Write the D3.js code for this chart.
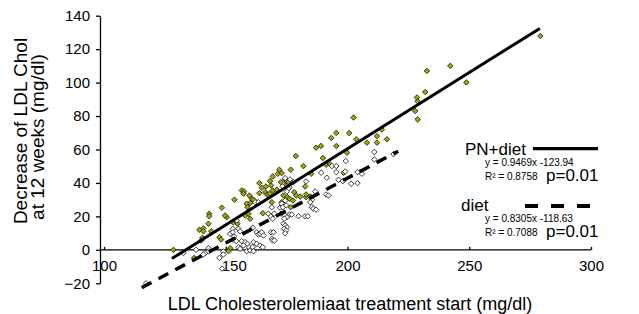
<!DOCTYPE html>
<html>
<head>
<meta charset="utf-8">
<script src="https://cdn.jsdelivr.net/npm/d3@7"></script>
<style>
  body { margin: 0; background: #fff; }
  svg { display: block; font-family: 'Liberation Sans', Arial, Helvetica, sans-serif; }
</style>
</head>
<body>
<script>
const W = 639
const H = 314

const xTicks = [100, 150, 200, 250, 300]
const yTicks = [-20, 0, 20, 40, 60, 80, 100, 120, 140]

// [LDL at start, decrease at 12 weeks]
const pnDiet = [
  [128.5, 0], [137.0, -4.8], [143.2, 21.6], [143.2, 20.1], [142.9, 15.6], [139.2, 12.0], [140.8, 12.9],
  [140.8, 11.1], [144.0, 11.1], [140.4, 7.2], [139.9, 5.6], [148.4, 25.2], [153.6, 30.0], [156.6, 35.5],
  [157.5, 34.9], [157.3, 33.5], [163.8, 39.9], [163.8, 33.9], [160.0, 27.9], [150.4, 19.5], [147.4, 7.5],
  [148.1, 6.2], [172.0, 47.9], [171.4, 45.5], [173.0, 45.9], [169.3, 43.9], [174.4, 41.9], [175.1, 41.1],
  [175.7, 40.5], [168.2, 41.1], [172.6, 40.5], [174.4, 38.5], [166.5, 37.9], [168.6, 38.5], [164.8, 37.1],
  [169.3, 35.5], [171.0, 35.9], [166.2, 34.5], [166.9, 33.1], [168.0, 33.5], [159.7, 32.5], [160.7, 30.5],
  [161.4, 30.0], [168.9, 28.5], [173.0, 28.5], [158.6, 27.6], [158.9, 25.5], [175.3, 31.5], [195.4, 69.9],
  [200.7, 69.9], [203.6, 66.1], [193.3, 66.9], [187.1, 61.1], [189.1, 62.1], [195.4, 62.1], [199.8, 58.1],
  [178.8, 56.1], [189.9, 54.9], [181.9, 50.1], [191.2, 50.9], [192.9, 51.1], [176.7, 47.9], [185.1, 45.5],
  [198.4, 46.1], [182.6, 37.9], [178.1, 34.5], [178.9, 32.5], [183.0, 31.5], [184.7, 31.9], [231.9, 94.4],
  [228.5, 91.1], [228.8, 88.8], [227.8, 83.0], [228.8, 78.0], [202.5, 79.1], [214.1, 71.9], [212.1, 68.0],
  [212.1, 64.1], [216.2, 66.1], [208.0, 64.1], [242.2, 110.0], [232.6, 107.0], [248.8, 100.1], [279.2, 127.8],
  [173.7, 32.5], [176.2, 30.5], [177.6, 29.5], [180.6, 31.9], [183.0, 33.1], [185.1, 31.2], [176.7, 25.5],
  [149.7, 20.5], [158.0, 20.5], [159.3, 21.6], [160.0, 18.6], [165.2, 21.9], [153.1, 16.5], [154.3, 17.1],
  [154.8, 15.6], [151.8, 1.0], [151.1, -0.8]
]

const diet = [
  [137.8, 0], [142.9, 1.0], [142.9, -1.0], [141.5, -2.0], [140.8, -2.8], [132.6, -1.8], [147.4, -4.8],
  [117.3, -20.0], [148.5, -11.2], [154.5, 17.6], [162.1, 28.5], [163.4, 28.5], [168.9, 25.5], [172.3, 25.2],
  [174.8, 26.6], [176.2, 37.5], [193.6, 50.1], [195.4, 50.1], [199.3, 53.1], [189.2, 46.1], [195.4, 46.5],
  [204.1, 46.5], [191.5, 43.1], [196.3, 41.9], [198.1, 41.1], [201.5, 39.5], [204.1, 39.9], [183.0, 40.9],
  [176.4, 42.1], [177.8, 40.5], [173.4, 37.9], [175.7, 36.5], [175.1, 34.9], [186.7, 34.9], [191.2, 33.1],
  [211.0, 58.5], [211.0, 54.1], [205.9, 45.5], [218.9, 57.2], [199.1, 46.9], [174.4, 42.9], [167.5, 21.6],
  [168.5, 20.0], [169.3, 18.6], [169.9, 21.6], [172.7, 21.6], [152.9, 12.6], [155.2, 12.6], [155.9, 11.1],
  [161.1, 13.2], [162.7, 10.5], [163.4, 9.2], [164.1, 9.6], [164.8, 10.5], [165.5, 8.6], [168.6, 10.5],
  [169.6, 10.5], [168.9, 6.6], [169.2, 5.6], [170.0, 5.6], [151.8, 9.6], [152.9, 10.5], [153.4, 8.0],
  [152.9, 6.0], [154.3, 5.2], [156.6, 5.2], [158.0, 4.6], [158.9, 3.6], [157.3, 2.6], [161.4, 4.6],
  [162.7, 3.6], [164.1, 2.6], [165.2, 1.6], [159.6, 1.6], [161.1, 1.6], [155.2, 1.6], [155.9, 0.6],
  [158.6, -0.8], [160.0, -0.4], [161.4, -0.8], [149.0, -1.0], [149.0, -2.8], [192.2, 32.5], [185.4, 30.0],
  [184.7, 28.5], [174.4, 29.5], [173.0, 27.6], [173.4, 25.5], [185.4, 25.5], [186.0, 24.6], [187.1, 24.0],
  [176.2, 21.1], [177.1, 21.1], [174.4, 20.5], [175.1, 19.5], [174.0, 18.6], [179.9, 20.1], [182.6, 20.1],
  [183.7, 20.1], [173.7, 15.6], [174.4, 14.6], [175.1, 13.5], [174.0, 12.6], [174.8, 11.6], [174.4, 9.9]
]

// fitted lines, ends
const pnDietFit = [[127.9, -5.2], [279, 132.4]]
const dietFit = [[115.5, -22.6], [220.8, 59.0]]

const legendNames = ['PN+diet', 'diet']
const equations = ['y = 0.9469x -123.94', 'y = 0.8305x -118.63']
const rSquared = ['R² = 0.8758', 'R² = 0.7088']
const pValues = ['p=0.01', 'p=0.01']

const yellow = '#a6a800'

const svg = d3.select('body').append('svg')
  .attr('width', W)
  .attr('height', H)

const x = d3.scaleLinear().domain([100, 300]).range([104, 591])
const y = d3.scaleLinear().domain([-20, 140]).range([283.3, 15.7])
const yAxisX = 100

// x axis runs along y = 0
svg.append('g')
  .attr('transform', `translate(0,${y(0)})`)
  .call(d3.axisBottom(x).tickValues(xTicks).tickSizeInner(-3).tickSizeOuter(0).tickPadding(11))
  .call(g => g.select('.domain').attr('d', `M${yAxisX},0H${x.range()[1]}`))
  .call(g => g.selectAll('.domain, .tick line').attr('stroke', '#000').attr('stroke-width', 1.3))
  .call(g => g.selectAll('.tick text').attr('font-size', 15).attr('font-family', null).attr('fill', '#000'))
  // the 150 label sits a little right of its tick in the original
  .call(g => g.selectAll('.tick text').filter(d => d === 150).attr('dx', 8))

svg.append('g')
  .attr('transform', `translate(${yAxisX},0)`)
  .call(d3.axisLeft(y).tickValues(yTicks).tickSizeInner(4).tickSizeOuter(0).tickPadding(6))
  .call(g => g.selectAll('.domain, .tick line').attr('stroke', '#000').attr('stroke-width', 1.3))
  .call(g => g.selectAll('.tick text').attr('font-size', 15).attr('font-family', null).attr('fill', '#000'))

// axis titles
svg.append('text')
  .attr('x', 350)
  .attr('y', 310)
  .attr('text-anchor', 'middle')
  .attr('font-size', 18)
  .text('LDL Cholesterolemiaat treatment start (mg/dl)')

const yTitle = svg.append('g')
  .attr('font-size', 19)
  .attr('text-anchor', 'middle')
yTitle.append('text')
  .attr('transform', 'translate(27,131) rotate(-90)')
  .text('Decrease of LDL Chol')
yTitle.append('text')
  .attr('transform', 'translate(44,137) rotate(-90)')
  .text('at 12 weeks (mg/dl)')

// points
const marker = d3.symbol().type(d3.symbolSquare).size(15)

const drawPoints = (data, fill) => svg.append('g')
  .selectAll('path')
  .data(data)
  .join('path')
  .attr('d', marker)
  .attr('transform', d => `translate(${x(d[0])},${y(d[1])}) rotate(45)`)
  .attr('fill', fill)
  .attr('stroke', '#1a1a1a')
  .attr('stroke-width', 0.8)

drawPoints(pnDiet, yellow)
drawPoints(diet, '#fff')

// regression lines
const line = d3.line().x(d => x(d[0])).y(d => y(d[1]))

svg.append('path')
  .attr('d', line(pnDietFit))
  .attr('fill', 'none')
  .attr('stroke', '#000')
  .attr('stroke-width', 3)

svg.append('path')
  .attr('d', line(dietFit))
  .attr('fill', 'none')
  .attr('stroke', '#000')
  .attr('stroke-width', 3.5)
  .attr('stroke-dasharray', '11,8')

// legend
const legend = svg.append('g')
const rows = [
  { top: 155, nameX: 465, dash: null, lineX: [533, 598], lineY: 148.7 },
  { top: 211, nameX: 461, dash: '13,13', lineX: [525, 592], lineY: 206 }
]

rows.forEach((r, i) => {
  legend.append('text')
    .attr('x', r.nameX)
    .attr('y', r.top)
    .attr('font-size', 17)
    .text(legendNames[i])
  legend.append('line')
    .attr('x1', r.lineX[0])
    .attr('x2', r.lineX[1])
    .attr('y1', r.lineY)
    .attr('y2', r.lineY)
    .attr('stroke', '#000')
    .attr('stroke-width', i ? 4 : 3.3)
    .attr('stroke-dasharray', r.dash)
  legend.append('text')
    .attr('x', 485)
    .attr('y', r.top + 11)
    .attr('font-size', 10)
    .text(equations[i])
  legend.append('text')
    .attr('x', 485)
    .attr('y', r.top + 24.5)
    .attr('font-size', 10)
    .text(rSquared[i])
  legend.append('text')
    .attr('x', 546)
    .attr('y', r.top + 26)
    .attr('font-size', 17)
    .text(pValues[i])
})
</script>
</body>
</html>
